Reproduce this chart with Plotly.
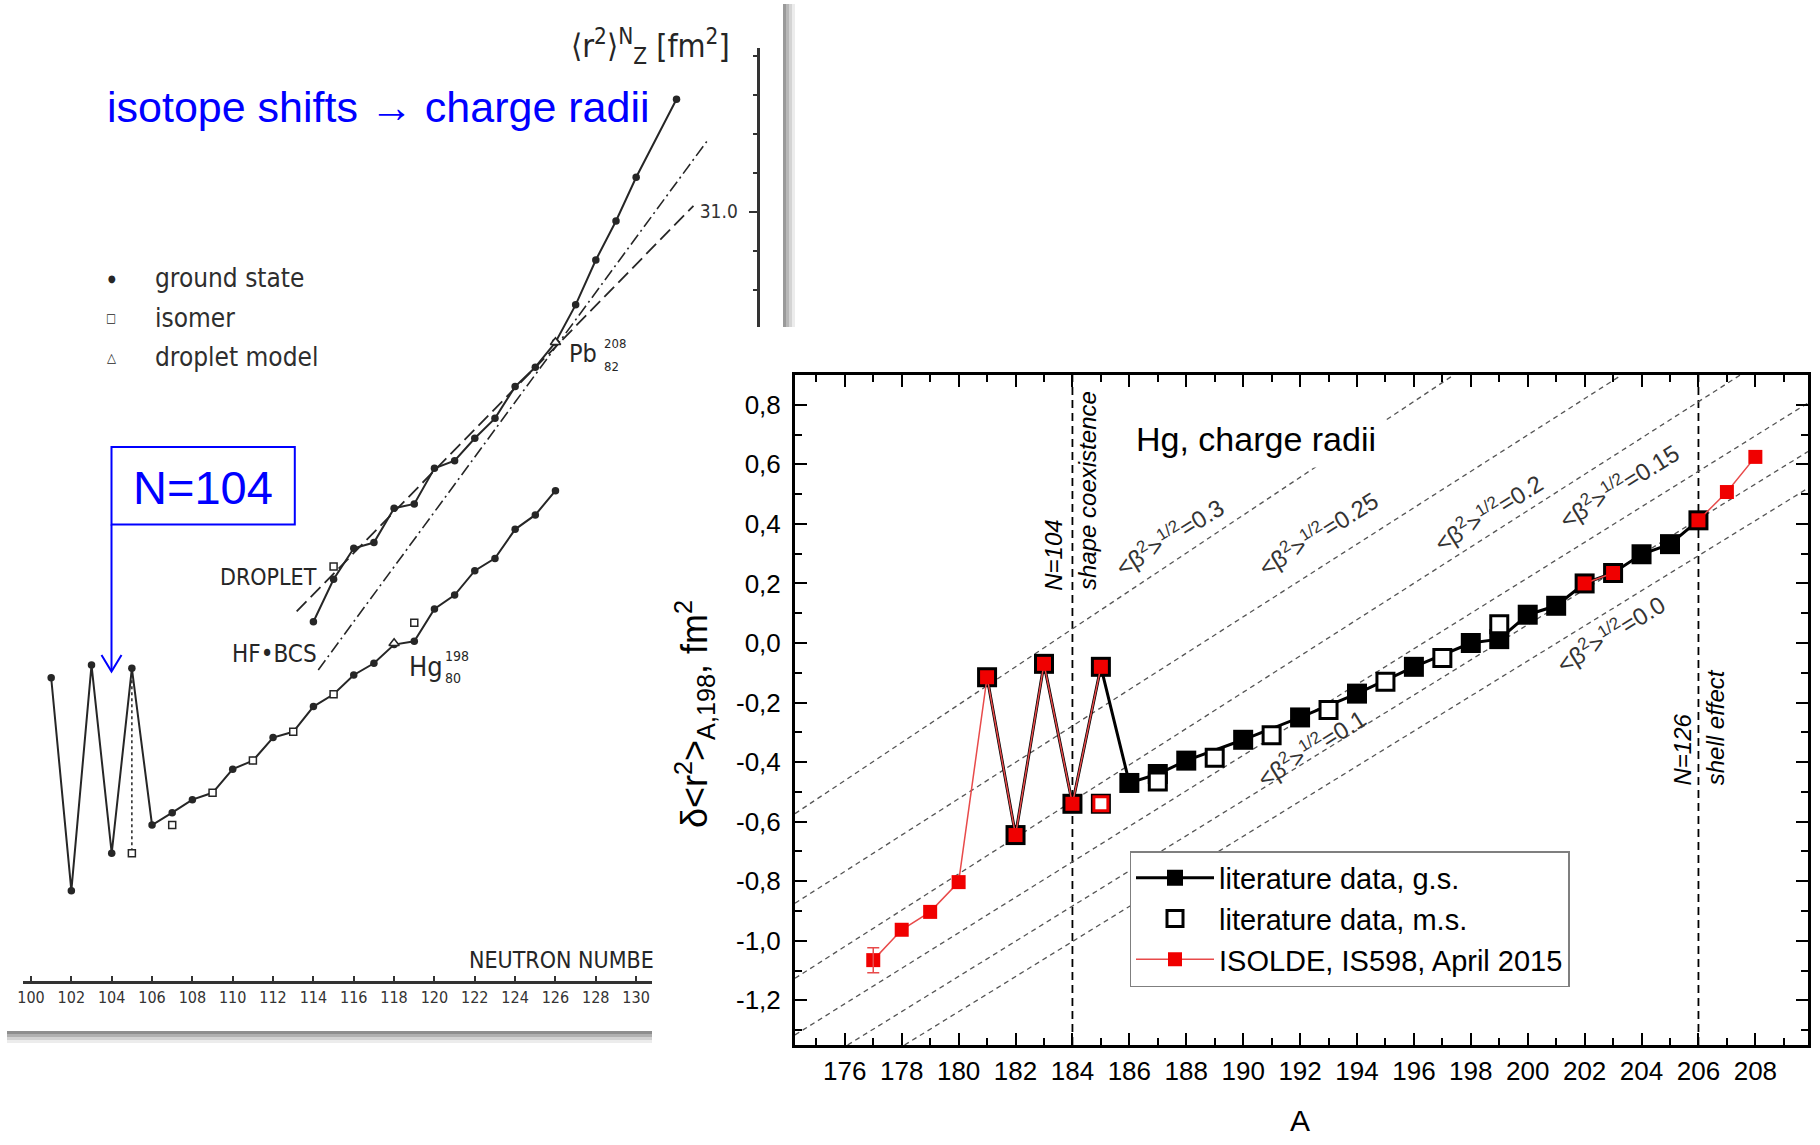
import plotly.graph_objects as go

W, H = 1820, 1145


def px_x(x):
    return x / W


def px_y(y):
    return 1 - y / H


RF = "Liberation Sans, Arial, sans-serif"
SF = "DejaVu Sans Condensed, DejaVu Sans, sans-serif"
INK = "#262626"
RED = "#f00000"
RED_LINE = "#e84a4a"

# ---------------- right panel: delta<r^2>(A,198) of Hg isotopes ----------------
A_gs = [181, 182, 183, 184, 185, 186, 187, 188, 190, 192, 194, 196, 198, 199, 200,
        201, 202, 203, 204, 205, 206]
dr2_gs = [-0.115, -0.645, -0.07, -0.54, -0.08, -0.47, -0.44, -0.395, -0.325, -0.25,
          -0.17, -0.08, 0.0, 0.013, 0.095, 0.125, 0.2, 0.235, 0.298, 0.332, 0.412]

A_ms = [185, 187, 189, 191, 193, 195, 197, 199]
dr2_ms = [-0.54, -0.465, -0.385, -0.31, -0.225, -0.13, -0.05, 0.063]

A_is = [177, 178, 179, 180, 181, 182, 183, 184, 185, 202, 203, 206, 207, 208]
dr2_is = [-1.065, -0.963, -0.903, -0.803, -0.115, -0.645, -0.07, -0.54, -0.08, 0.2,
          0.235, 0.412, 0.507, 0.625]
err_is = [0.042, 0, 0, 0, 0, 0, 0, 0, 0, 0, 0, 0, 0, 0]

A_is_m = [185]
dr2_is_m = [-0.54]

# iso-deformation lines <beta^2>^(1/2) = const (droplet model)
beta_names = ["0.3", "0.25", "0.2", "0.15", "0.1", "0.0"]
beta_A0 = [174.25, 174.25, 174.25, 174.25, 176.1, 178.1]
beta_y0 = [-0.573, -0.874, -1.126, -1.316, -1.35, -1.35]
beta_A1 = [197.4, 203.3, 207.47, 209.85, 209.85, 209.85]
beta_y1 = [0.9, 0.9, 0.9, 0.806, 0.643, 0.52]
beta_lab_A = [187.4, 192.6, 198.6, 203.2, 192.4, 202.9]
beta_lab_y = [0.36, 0.37, 0.44, 0.53, -0.35, 0.035]

shell_A = [184, 206]

A_tickvals = [176, 178, 180, 182, 184, 186, 188, 190, 192, 194, 196, 198, 200, 202,
              204, 206, 208]
A_ticktext = [str(v) for v in A_tickvals]
y_tickvals = [-1.2, -1.0, -0.8, -0.6, -0.4, -0.2, 0.0, 0.2, 0.4, 0.6, 0.8]
y_ticktext = ["-1,2", "-1,0", "-0,8", "-0,6", "-0,4", "-0,2", "0,0", "0,2", "0,4",
              "0,6", "0,8"]

# ---------------- left panel: <r^2> vs neutron number (Hg and Pb) ----------------
N_hg = [101, 102, 103, 104, 105, 106, 107, 108, 109, 110, 111, 112, 113, 114, 115,
        116, 117, 118, 119, 120, 121, 122, 123, 124, 125, 126]
r2_hg = [28.61, 27.518, 28.675, 27.71, 28.658, 27.855, 27.918, 27.985, 28.02, 28.141,
         28.185, 28.303, 28.333, 28.462, 28.525, 28.624, 28.684, 28.78, 28.797,
         28.963, 29.034, 29.159, 29.222, 29.371, 29.445, 29.569]
N_hg_m = [105, 107, 109, 111, 113, 115, 119]
r2_hg_m = [27.71, 27.855, 28.02, 28.185, 28.333, 28.525, 28.892]

N_pb = [114, 115, 116, 117, 118, 119, 120, 121, 122, 123, 124, 125, 126, 127, 128,
        129, 130, 132]
r2_pb = [28.897, 29.115, 29.274, 29.303, 29.479, 29.501, 29.684, 29.723, 29.838,
         29.94, 30.103, 30.202, 30.33, 30.522, 30.752, 30.952, 31.176, 31.576]
N_pb_m = [115]
r2_pb_m = [29.18]

N_drop = [118, 126]
r2_drop = [28.787, 30.33]

droplet_N = [113.17, 132.84]
droplet_r2 = [28.95, 31.03]
hfbcs_N = [114.24, 133.5]
hfbcs_r2 = [28.65, 31.36]

N_tickvals = [100, 102, 104, 106, 108, 110, 112, 114, 116, 118, 120, 122, 124, 126,
              128, 130]
N_ticktext = [str(v) for v in N_tickvals]
r2_tickvals = [31.0]
r2_ticktext = ["31.0"]

fig = go.Figure()

# ---- right panel traces ----
bx, by = [], []
for a0, y0, a1, y1 in zip(beta_A0, beta_y0, beta_A1, beta_y1):
    bx += [a0, a1, None]
    by += [y0, y1, None]
fig.add_trace(go.Scatter(x=bx, y=by, mode="lines", showlegend=False, hoverinfo="skip",
                         line=dict(color="#555555", width=1.3, dash="5px,4px")))

fig.add_trace(go.Scatter(x=A_gs, y=dr2_gs, mode="lines+markers",
                         name="literature data, g.s.",
                         line=dict(color="black", width=3),
                         marker=dict(symbol="square", size=20, color="black",
                                     line=dict(width=0))))

fig.add_trace(go.Scatter(x=A_ms, y=dr2_ms, mode="markers",
                         name="literature data, m.s.",
                         marker=dict(symbol="square", size=17, color="white",
                                     line=dict(color="black", width=3))))

seg_x, seg_y = [], []
for i, (a, v) in enumerate(zip(A_is, dr2_is)):
    if i > 0 and a - A_is[i - 1] > 1:
        seg_x.append(None)
        seg_y.append(None)
    seg_x.append(a)
    seg_y.append(v)
fig.add_trace(go.Scatter(x=seg_x, y=seg_y, mode="lines+markers",
                         name="ISOLDE, IS598, April 2015",
                         line=dict(color=RED_LINE, width=1.5),
                         marker=dict(symbol="square", size=14, color=RED,
                                     line=dict(width=0))))

fig.add_trace(go.Scatter(x=A_is_m, y=dr2_is_m, mode="markers", showlegend=False,
                         marker=dict(symbol="square", size=14, color="white",
                                     line=dict(color=RED, width=3))))

err_A = [a for a, e in zip(A_is, err_is) if e > 0]
err_y = [v for v, e in zip(dr2_is, err_is) if e > 0]
err_v = [e for e in err_is if e > 0]
fig.add_trace(go.Scatter(x=err_A, y=err_y, mode="markers", showlegend=False,
                         marker=dict(size=2, color="rgba(0,0,0,0)"),
                         error_y=dict(type="data", array=err_v, color=RED_LINE,
                                      thickness=1.5, width=6)))

# ---- left panel traces ----
LX, LY = "x2", "y2"
# empty traces that register the visible axis frames of the left panel
fig.add_trace(go.Scatter(x=[], y=[], xaxis="x3", yaxis="y2", showlegend=False,
                         hoverinfo="skip"))
fig.add_trace(go.Scatter(x=[], y=[], xaxis="x2", yaxis="y3", showlegend=False,
                         hoverinfo="skip"))

fig.add_trace(go.Scatter(x=droplet_N, y=droplet_r2, xaxis=LX, yaxis=LY, mode="lines",
                         showlegend=False,
                         line=dict(color=INK, width=1.8, dash="14px,6px")))
fig.add_trace(go.Scatter(x=hfbcs_N, y=hfbcs_r2, xaxis=LX, yaxis=LY, mode="lines",
                         showlegend=False,
                         line=dict(color=INK, width=1.6, dash="12px,4px,2px,4px")))

i105 = N_hg.index(105)
j105 = N_hg_m.index(105)
fig.add_trace(go.Scatter(x=[N_hg[i105], N_hg_m[j105]], y=[r2_hg[i105], r2_hg_m[j105]],
                         xaxis=LX, yaxis=LY, mode="lines", showlegend=False,
                         line=dict(color=INK, width=1.5, dash="3px,3px")))

for nn, rr in ((N_hg, r2_hg), (N_pb, r2_pb)):
    fig.add_trace(go.Scatter(x=nn, y=rr, xaxis=LX, yaxis=LY, mode="lines+markers",
                             showlegend=False, line=dict(color=INK, width=2),
                             marker=dict(symbol="circle", size=7.5, color=INK)))
for nn, rr in ((N_hg_m, r2_hg_m), (N_pb_m, r2_pb_m)):
    fig.add_trace(go.Scatter(x=nn, y=rr, xaxis=LX, yaxis=LY, mode="markers",
                             showlegend=False,
                             marker=dict(symbol="square", size=7, color="white",
                                         line=dict(color=INK, width=1.5))))
fig.add_trace(go.Scatter(x=N_drop, y=r2_drop, xaxis=LX, yaxis=LY, mode="markers",
                         showlegend=False,
                         marker=dict(symbol="triangle-up", size=9, color="white",
                                     line=dict(color=INK, width=1.5))))

# ---------------- decorations ----------------
shapes = []
for a in shell_A:
    shapes.append(dict(type="line", xref="x", yref="y domain", x0=a, x1=a, y0=0, y1=1,
                       line=dict(color="black", width=1.8, dash="8px,5px"),
                       layer="below"))

# paper shadow of the scanned figure
for x0, x1, c in ((783, 786, "#9a9a9a"), (786, 789, "#b8b8b8"), (789, 792, "#d4d4d4"),
                  (792, 795, "#ececec")):
    shapes.append(dict(type="rect", xref="paper", yref="paper", x0=px_x(x0),
                       x1=px_x(x1), y0=px_y(327), y1=px_y(4), line=dict(width=0),
                       fillcolor=c))
for y0, y1, c in ((1031, 1034, "#8e8e8e"), (1034, 1037, "#b0b0b0"),
                  (1037, 1040, "#d2d2d2"), (1040, 1043, "#ececec")):
    shapes.append(dict(type="rect", xref="paper", yref="paper", x0=px_x(7),
                       x1=px_x(652), y0=px_y(y1), y1=px_y(y0), line=dict(width=0),
                       fillcolor=c))

# blue N=104 box with arrow
BLUE = "#0000ff"
shapes.append(dict(type="rect", xref="paper", yref="paper", x0=px_x(111.5),
                   x1=px_x(294.8), y0=px_y(524.6), y1=px_y(447),
                   line=dict(color=BLUE, width=2)))
shapes.append(dict(type="line", xref="paper", yref="paper", x0=px_x(111.5),
                   x1=px_x(111.5), y0=px_y(524.6), y1=px_y(671),
                   line=dict(color=BLUE, width=2)))
shapes.append(dict(type="path", xref="paper", yref="paper",
                   path="M %f,%f L %f,%f L %f,%f" % (px_x(101.5), px_y(655),
                                                    px_x(111.5), px_y(671.5),
                                                    px_x(121.5), px_y(655)),
                   line=dict(color=BLUE, width=2)))

annotations = []


def ann(text, x, y, size, family=RF, color="black", xanchor="center",
        yanchor="middle", angle=0, **kw):
    annotations.append(dict(text=text, x=px_x(x), y=px_y(y), xref="paper",
                            yref="paper", showarrow=False, xanchor=xanchor,
                            yanchor=yanchor, textangle=angle,
                            font=dict(family=family, size=size, color=color), **kw))


# right panel texts
ann("Hg, charge radii", 1126, 439, 34, xanchor="left", bgcolor="white", borderpad=9)
for name, a, v in zip(beta_names, beta_lab_A, beta_lab_y):
    annotations.append(dict(text="&lt;β<sup>2</sup>&gt;<sup>1/2</sup>=" + name,
                            x=a, y=v, xref="x", yref="y", showarrow=False,
                            textangle=-32, font=dict(family=RF, size=24,
                                                     color="#333333")))
shell_text = [("<i>N=104</i>", 183.35, 0.17), ("<i>shape coexistence</i>", 184.55, 0.17),
              ("<i>N=126</i>", 205.45, -0.486), ("<i>shell effect</i>", 206.6, -0.486)]
for t, a, v in shell_text:
    annotations.append(dict(text=t, x=a, y=v, xref="x", yref="y", showarrow=False,
                            textangle=-90, xanchor="center", yanchor="bottom",
                            font=dict(family=RF, size=24, color="black")))
ann("A", 1300, 1120, 30)
ann("δ&lt;r<sup>2</sup>&gt;<sub>A,198</sub>, fm<sup>2</sup>", 694, 714, 36, angle=-90)

# left panel texts
ann("isotope shifts → charge radii", 105, 107, 43, color=BLUE, xanchor="left")
ann("N=104", 203, 487, 47, color=BLUE)
ann("⟨r<sup>2</sup>⟩<sup>N</sup><sub>Z</sub> [fm<sup>2</sup>]", 650, 46, 32, family=SF,
    color=INK)
ann("●", 112, 278, 10, family=SF, color=INK)
ann("□", 111, 318, 12, family=SF, color=INK)
ann("△", 111, 357, 13, family=SF, color=INK)
ann("ground state", 153, 278, 26, family=SF, color="#2e2e2e", xanchor="left")
ann("isomer", 153, 318, 26, family=SF, color="#2e2e2e", xanchor="left")
ann("droplet model", 153, 357, 26, family=SF, color="#2e2e2e", xanchor="left")
ann("DROPLET", 268, 577, 23, family=SF, color=INK)
ann("HF•BCS", 274, 654, 24, family=SF, color=INK)
ann("Hg", 426, 666, 27, family=SF, color=INK)
ann("198", 457, 656, 14, family=SF, color=INK)
ann("80", 453, 678, 14, family=SF, color=INK)
ann("Pb", 583, 353, 25, family=SF, color=INK)
ann("208", 615, 343, 13, family=SF, color=INK)
ann("82", 611, 366, 13, family=SF, color=INK)
ann("NEUTRON NUMBE", 467, 960, 23, family=SF, color=INK, xanchor="left")

fig.update_layout(
    width=W, height=H, margin=dict(l=0, r=0, t=0, b=0, pad=0, autoexpand=False),
    paper_bgcolor="white", plot_bgcolor="rgba(0,0,0,0)", hovermode=False,
    showlegend=True,
    legend=dict(x=px_x(1129.5), y=px_y(851), xanchor="left", yanchor="top",
                bgcolor="white", bordercolor="#7f7f7f", borderwidth=1.5,
                font=dict(family=RF, size=29, color="black"), itemwidth=78,
                tracegroupgap=0),
    xaxis=dict(domain=[px_x(795), px_x(1808)], range=[174.25, 209.85], anchor="y",
               automargin=False,
               showline=True, linewidth=3, linecolor="black", mirror="allticks",
               ticks="inside", ticklen=12, tickwidth=2, tickcolor="black",
               tickmode="array", tickvals=A_tickvals, ticktext=A_ticktext,
               tickfont=dict(family=RF, size=26, color="black"),
               ticklabelstandoff=1,
               minor=dict(ticks="inside", ticklen=7, tickwidth=2, tickcolor="black",
                          tickmode="linear", tick0=175, dtick=1),
               showgrid=False, zeroline=False),
    yaxis=dict(domain=[px_y(1045), px_y(375)], range=[-1.35, 0.9], anchor="x",
               automargin=False,
               showline=True, linewidth=3, linecolor="black", mirror="allticks",
               ticks="inside", ticklen=12, tickwidth=2, tickcolor="black",
               tickmode="array", tickvals=y_tickvals, ticktext=y_ticktext,
               tickfont=dict(family=RF, size=26, color="black"),
               ticklabelstandoff=6,
               minor=dict(ticks="inside", ticklen=7, tickwidth=2, tickcolor="black",
                          tickmode="linear", tick0=-1.3, dtick=0.1),
               showgrid=False, zeroline=False),
    xaxis2=dict(domain=[px_x(23), px_x(757)], range=[99.603, 135.99], anchor="y2",
                automargin=False, visible=False),
    yaxis2=dict(domain=[px_y(981), px_y(40)], range=[27.055, 31.88], anchor="x2",
                automargin=False, visible=False),
    xaxis3=dict(domain=[px_x(23), px_x(652)], range=[99.603, 130.79], anchor="y2",
                automargin=False,
                showline=True, linewidth=3, linecolor="#333333", ticks="inside",
                ticklen=5, tickwidth=2, tickcolor="#333333", tickmode="array",
                tickvals=N_tickvals, ticktext=N_ticktext, ticklabelstandoff=0,
                tickfont=dict(family=SF, size=16, color="#333333"),
                showgrid=False, zeroline=False),
    yaxis3=dict(domain=[px_y(327), px_y(48)], range=[30.408, 31.8395], anchor="x2",
                automargin=False,
                side="right", showline=True, linewidth=3, linecolor="#333333",
                ticks="inside", ticklen=8, tickwidth=2, tickcolor="#333333",
                ticklabelposition="inside", ticklabelstandoff=12,
                tickmode="array", tickvals=r2_tickvals, ticktext=r2_ticktext,
                tickfont=dict(family=SF, size=19, color="#333333"),
                minor=dict(ticks="inside", ticklen=4, tickwidth=2,
                           tickcolor="#333333", tickmode="linear", tick0=30.6,
                           dtick=0.2),
                showgrid=False, zeroline=False),
    shapes=shapes,
    annotations=annotations,
)

fig.write_html("out.html")
